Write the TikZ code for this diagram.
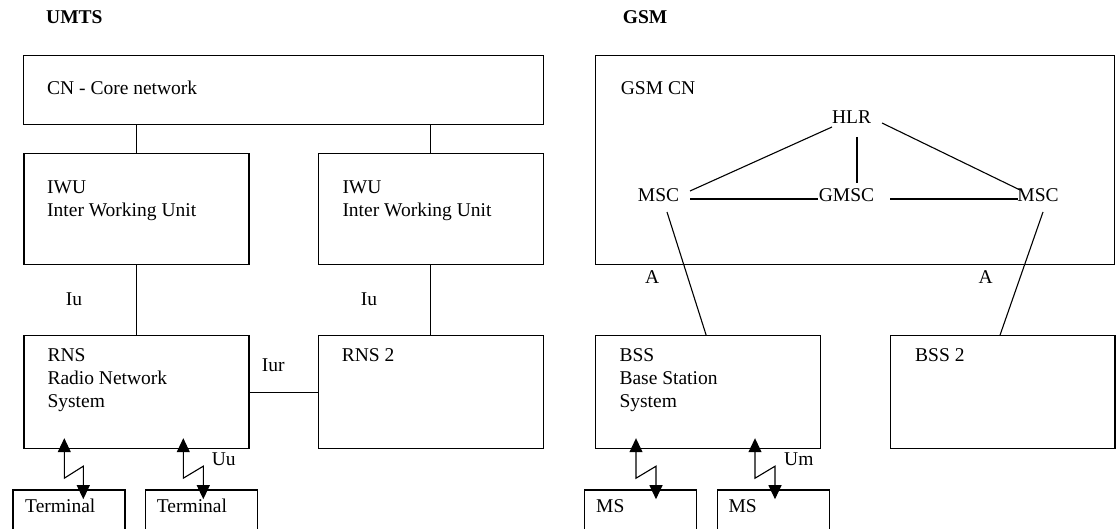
\documentclass[tikz,border=0pt]{standalone}
\usepackage{fontspec}
\setmainfont{Liberation Serif}
\usetikzlibrary{arrows.meta}
\begin{document}
\begin{tikzpicture}[x=1pt,y=-1pt,
  box/.style={draw,line width=1.2pt,rectangle,inner sep=0pt,anchor=north west},
  txt/.style={inner sep=0pt,anchor=base west,font=\fontsize{19.5}{23}\selectfont},
  mtxt/.style={inner sep=0pt,anchor=north west,align=left,font=\fontsize{19.5}{23}\selectfont},
  ctxt/.style={inner sep=0pt,anchor=base,font=\fontsize{19.5}{23}\selectfont},
  conn/.style={line width=1.1pt},
  radio/.style={line width=1.1pt,{Triangle[length=14pt,width=13pt]}-{Triangle[length=14pt,width=13pt]}}]
\clip (0,0) rectangle (1118,529);
\fill[white] (0,0) rectangle (1118,529);

% titles
\node[txt,font=\fontsize{19.5}{23}\selectfont\bfseries] (umts) at (46,23.3) {UMTS};
\node[txt,font=\fontsize{19.5}{23}\selectfont\bfseries] (gsm) at (622.7,23.3) {GSM};

% UMTS boxes
\node[box,minimum width=520pt,minimum height=69pt] (cn) at (23,55) {};
\node[box,minimum width=225pt,minimum height=111pt] (iwu1) at (23.3,153) {};
\node[box,minimum width=225pt,minimum height=111pt] (iwu2) at (317.5,153) {};
\node[box,minimum width=225pt,minimum height=113pt] (rns) at (23.3,335) {};
\node[box,minimum width=225pt,minimum height=113pt] (rns2) at (318,335) {};
\node[box,minimum width=112pt,minimum height=60pt] (term1) at (12.3,489.3) {};
\node[box,minimum width=112pt,minimum height=60pt] (term2) at (144.7,489.3) {};

% GSM boxes
\node[box,minimum width=519pt,minimum height=209pt] (gcn) at (595,55) {};
\node[box,minimum width=225pt,minimum height=113pt] (bss) at (595,335) {};
\node[box,minimum width=224.3pt,minimum height=113pt] (bss2) at (890,335) {};
\node[box,minimum width=112pt,minimum height=60pt] (ms1) at (584,489.3) {};
\node[box,minimum width=112pt,minimum height=60pt] (ms2) at (717,489.3) {};

% box texts
\node[txt] (cnt) at (47,95) {CN - Core network};
\node[mtxt] (iwu1t) at (47,180.1) {IWU\\Inter Working Unit};
\node[mtxt] (iwu2t) at (342.3,180.1) {IWU\\Inter Working Unit};
\node[mtxt] (rnst) at (47.3,348.1) {RNS\\Radio Network\\System};
\node[txt] (rns2t) at (341.7,361) {RNS 2};
\node[txt] (term1t) at (25,512.7) {Terminal};
\node[txt] (term2t) at (156.7,512.7) {Terminal};
\node[txt] (gcnt) at (620.7,95) {GSM CN};
\node[mtxt] (bsst) at (619.3,348.1) {BSS\\Base Station\\System};
\node[txt] (bss2t) at (915,361) {BSS 2};
\node[txt] (ms1t) at (596,512.7) {MS};
\node[txt] (ms2t) at (728.3,512.7) {MS};

% interface labels
\node[txt] (iu1) at (65.7,305) {Iu};
\node[txt] (iu2) at (360.7,305) {Iu};
\node[txt] (iur) at (261.7,371.7) {Iur};
\node[txt] (uu) at (211.7,465) {Uu};
\node[txt] (um) at (784,465) {Um};
\node[txt] (a1) at (645,283.3) {A};
\node[txt] (a2) at (978.3,283.3) {A};

% GSM core elements
\node[ctxt] (hlr) at (851.5,124) {HLR};
\node[ctxt] (msc1) at (658.5,201.7) {MSC};
\node[ctxt] (gmsc) at (846.5,201.7) {GMSC};
\node[ctxt] (msc2) at (1038,202) {MSC};

% UMTS connectors
\draw[conn] (iwu1.north) -- (iwu1.north |- cn.south);
\draw[conn] (iwu2.north) -- (iwu2.north |- cn.south);
\draw[conn] (iwu1.south) -- (rns.north);
\draw[conn] (iwu2.south) -- (iwu2.south |- rns2.north);
\draw[conn] (rns.east) -- (rns2.west);

% GSM connectors
\draw[conn] ([shift={(-19.5,3)}]hlr.base) -- ([shift={(31.5,-10.7)}]msc1.base);
\draw[conn] ([shift={(5.5,13)}]hlr.base) -- ([shift={(10.5,-18.7)}]gmsc.base);
\draw[conn] ([shift={(30.5,-1)}]hlr.base) -- ([shift={(-18,-12)}]msc2.base);
\draw[conn] ([shift={(31.5,-2.7)}]msc1.base) -- ([shift={(-28.5,-2.7)}]gmsc.base);
\draw[conn] ([shift={(43.5,-2.7)}]gmsc.base) -- ([shift={(-20,-3)}]msc2.base);
\draw[conn] ([shift={(8.5,10.3)}]msc1.base) -- ([xshift=-2pt]bss.north);
\draw[conn] ([shift={(5,10)}]msc2.base) -- ([xshift=-2.7pt]bss2.north);

% radio links
\draw[radio] ([shift={(41,-11)}]rns.south west) -- ++(0,40) -- ++(19,-12) -- ++(0,33);
\draw[radio] ([shift={(160,-11)}]rns.south west) -- ++(0,40) -- ++(20,-12) -- ++(0,33);
\draw[radio] ([shift={(41,-11)}]bss.south west) -- ++(0,40) -- ++(20,-12) -- ++(0,33);
\draw[radio] ([shift={(160,-11)}]bss.south west) -- ++(0,40) -- ++(20,-12) -- ++(0,33);
\end{tikzpicture}
\end{document}
